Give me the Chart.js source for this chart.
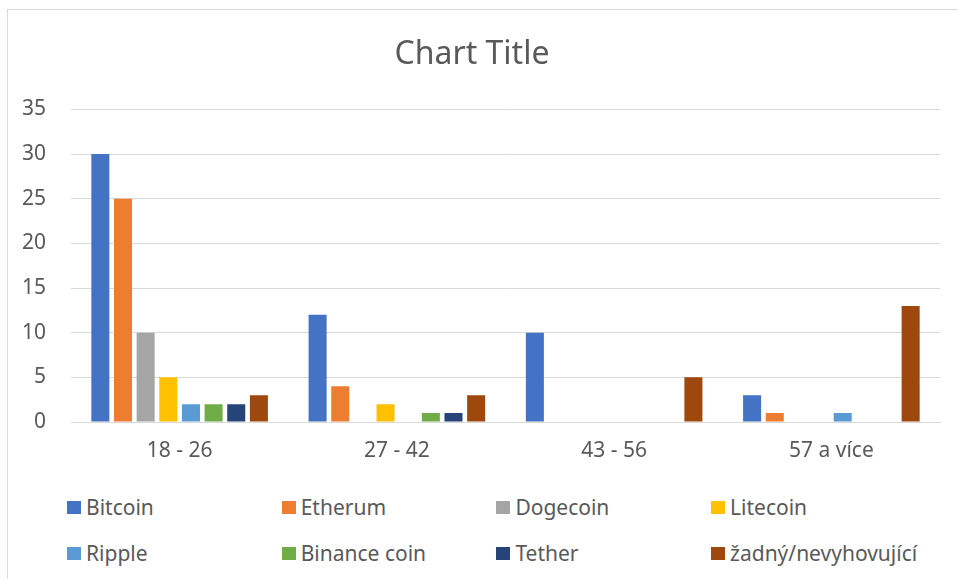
<!DOCTYPE html>
<html>
<head>
<meta charset="utf-8">
<script src="https://cdn.jsdelivr.net/npm/chart.js@4/dist/chart.umd.min.js"></script>
<style>
  html, body { margin: 0; padding: 0; background: #fff; }
  #wrap {
    position: relative; width: 958px; height: 579px; overflow: hidden;
    font-family: "Noto Sans", sans-serif;
  }
  #frame {
    position: absolute; left: 7px; top: 9px; width: 960px; height: 580px;
    border-left: 1px solid #d9d9d9; border-top: 1px solid #d9d9d9;
  }
  #box { position: absolute; left: 0; top: 0; width: 958px; height: 480px; }
  #legend {
    position: absolute; left: 67px; top: 493px;
    display: grid; grid-template-columns: repeat(4, 214.7px); row-gap: 18px;
    font-size: 21px; color: #595959;
  }
  .item { display: flex; align-items: center; height: 28px; }
  .sw { width: 14px; height: 13px; margin-right: 5px; flex: none; }
</style>
</head>
<body>
<div id="wrap">
  <div id="frame"></div>
  <div id="box"><canvas id="chart"></canvas></div>
  <div id="legend"></div>
</div>
<script>
// kategorie a hodnoty
const categories = ["18 - 26", "27 - 42", "43 - 56", "57 a více"];
const seriesNames = ["Bitcoin", "Etherum", "Dogecoin", "Litecoin", "Ripple", "Binance coin", "Tether", "žadný/nevyhovující"];
const bitcoin = [30, 12, 10, 3];
const etherum = [25, 4, 0, 1];
const dogecoin = [10, 0, 0, 0];
const litecoin = [5, 2, 0, 0];
const ripple = [2, 0, 0, 1];
const binance = [2, 1, 0, 0];
const tether = [2, 1, 0, 0];
const zadny = [3, 3, 5, 13];
const yTicks = [0, 5, 10, 15, 20, 25, 30, 35];

const colors = ["#4472C4", "#ED7D31", "#A5A5A5", "#FFC000", "#5B9BD5", "#70AD47", "#264478", "#9E480E"];
const values = [bitcoin, etherum, dogecoin, litecoin, ripple, binance, tether, zadny];

function init() {
  const ctx = document.getElementById("chart").getContext("2d");

  let datasets = [];
  for (let i = 0; i < seriesNames.length; i++) {
    datasets.push({
      label: seriesNames[i],
      data: values[i],
      backgroundColor: colors[i],
      borderWidth: 0,
      categoryPercentage: 0.834,
      barPercentage: 0.796,
    });
  }

  let chart = new Chart(ctx, {
    type: "bar",
    data: { labels: categories, datasets: datasets },
    options: {
      responsive: true,
      maintainAspectRatio: false,
      animation: false,
      layout: { padding: { left: 4, right: 18, top: 36, bottom: 0 } },
      plugins: {
        legend: { display: false },
        tooltip: { enabled: false },
        title: {
          display: true,
          text: "Chart Title",
          color: "#595959",
          font: { family: "Noto Sans", size: 32, weight: "normal" },
          padding: { top: 0, bottom: 35 },
        },
      },
      scales: {
        x: {
          grid: { display: false, drawTicks: false },
          border: { color: "#d9d9d9", width: 1 },
          ticks: {
            color: "#595959",
            font: { family: "Noto Sans", size: 21 },
            padding: 16,
          },
          afterFit: function (scale) {
            scale.height = 58;
          },
        },
        y: {
          min: 0,
          max: 35,
          afterBuildTicks: function (scale) {
            scale.ticks = yTicks.map((v) => ({ value: v }));
          },
          grid: { color: "#d9d9d9", lineWidth: 1, drawTicks: false },
          border: { display: false },
          ticks: {
            color: "#595959",
            font: { family: "Noto Sans", size: 21 },
            padding: 25,
          },
          afterFit: function (scale) {
            scale.width = 67;
          },
        },
      },
    },
  });

  // legenda ve 4 sloupcích
  const legend = document.getElementById("legend");
  chart.data.datasets.forEach((ds) => {
    const item = document.createElement("div");
    item.className = "item";
    const sw = document.createElement("span");
    sw.className = "sw";
    sw.style.background = ds.backgroundColor;
    const txt = document.createElement("span");
    txt.textContent = ds.label;
    item.appendChild(sw);
    item.appendChild(txt);
    legend.appendChild(item);
  });
}

init();
</script>
</body>
</html>
